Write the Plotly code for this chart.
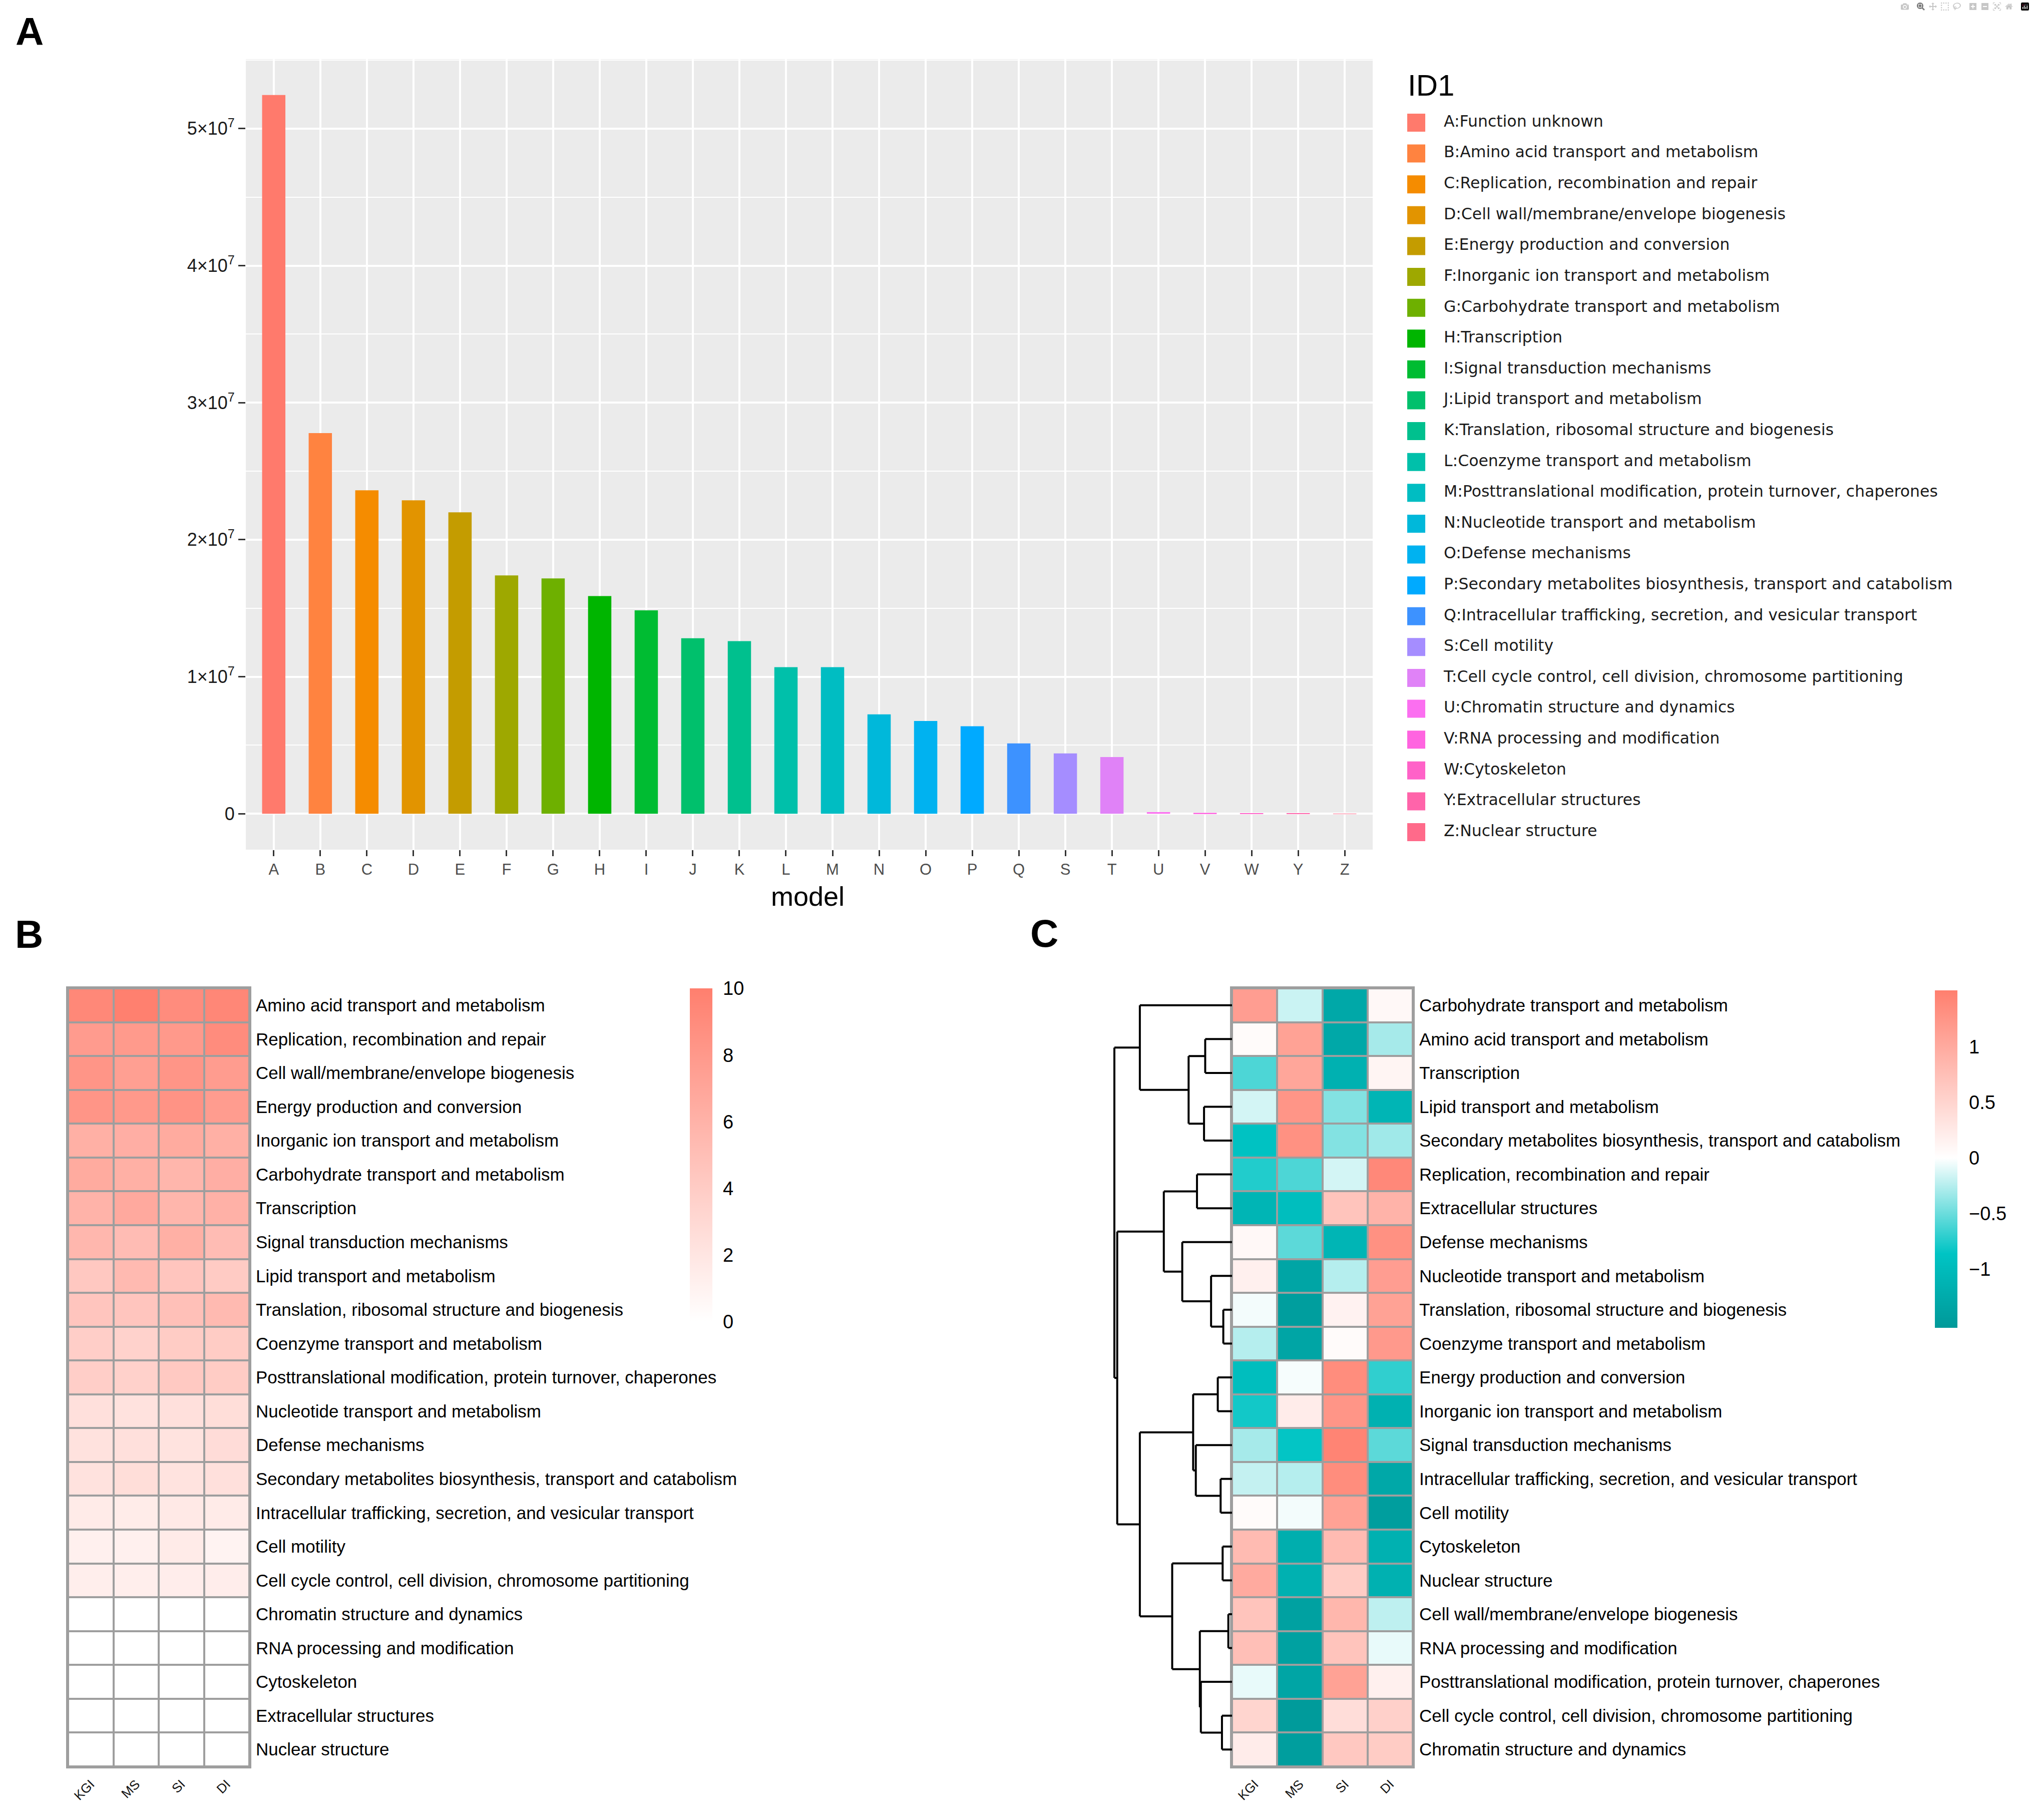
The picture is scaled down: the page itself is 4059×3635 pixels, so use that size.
import plotly.graph_objects as go

W, H = 4059, 3635

# ---- data -------------------------------------------------------------
categories = ["A", "B", "C", "D", "E", "F", "G", "H", "I", "J", "K", "L",
              "M", "N", "O", "P", "Q", "S", "T", "U", "V", "W", "Y", "Z"]
descriptions = [
    "Function unknown",
    "Amino acid transport and metabolism",
    "Replication, recombination and repair",
    "Cell wall/membrane/envelope biogenesis",
    "Energy production and conversion",
    "Inorganic ion transport and metabolism",
    "Carbohydrate transport and metabolism",
    "Transcription",
    "Signal transduction mechanisms",
    "Lipid transport and metabolism",
    "Translation, ribosomal structure and biogenesis",
    "Coenzyme transport and metabolism",
    "Posttranslational modification, protein turnover, chaperones",
    "Nucleotide transport and metabolism",
    "Defense mechanisms",
    "Secondary metabolites biosynthesis, transport and catabolism",
    "Intracellular trafficking, secretion, and vesicular transport",
    "Cell motility",
    "Cell cycle control, cell division, chromosome partitioning",
    "Chromatin structure and dynamics",
    "RNA processing and modification",
    "Cytoskeleton",
    "Extracellular structures",
    "Nuclear structure",
]
gene_counts = [5.245e7, 2.778e7, 2.36e7, 2.287e7, 2.20e7, 1.739e7, 1.717e7,
               1.588e7, 1.484e7, 1.281e7, 1.26e7, 1.07e7, 1.07e7, 0.725e7,
               0.677e7, 0.638e7, 0.513e7, 0.44e7, 0.414e7, 1.2e5, 6e4,
               1.5e4, 1e4, 5e3]
# hue palette as it appears in the figure
palette = ["#FF7A6C", "#FF8340", "#F58C00", "#E29400", "#C49C00", "#9EA800",
           "#6EB000", "#00B500", "#00BC32", "#00C06C", "#00C08E", "#00C0AA",
           "#00BDC2", "#00B8DA", "#00B2F0", "#00AAFF", "#3D92FF", "#A58DFF",
           "#E082F7", "#FB6FF0", "#FF64E0", "#FF62C8", "#FF64AA", "#FF6A8A"]

y_tick_vals = [0, 1e7, 2e7, 3e7, 4e7, 5e7]
y_tick_text = ["0", "1×10<sup>7</sup>", "2×10<sup>7</sup>", "3×10<sup>7</sup>",
               "4×10<sup>7</sup>", "5×10<sup>7</sup>"]

samples = ["KGI", "MS", "SI", "DI"]

# panel B: log abundance, rows in the same order as the legend (B..Z)
b_rows = descriptions[1:]
b_values = [
    [9.3, 9.9, 9.0, 9.4],
    [7.8, 7.9, 8.0, 9.0],
    [8.3, 7.5, 8.3, 7.7],
    [8.3, 8.0, 8.4, 7.7],
    [6.2, 6.3, 6.6, 6.2],
    [6.6, 6.2, 5.7, 6.3],
    [5.9, 6.7, 5.7, 6.1],
    [5.6, 5.2, 6.2, 5.2],
    [4.3, 5.4, 4.5, 4.1],
    [4.5, 4.5, 4.9, 5.4],
    [3.8, 3.5, 4.0, 4.0],
    [3.8, 3.6, 4.2, 4.0],
    [2.4, 2.3, 2.4, 2.6],
    [2.3, 2.4, 2.2, 2.7],
    [2.3, 2.6, 2.2, 2.4],
    [1.6, 1.5, 1.7, 1.6],
    [1.2, 1.2, 1.6, 0.9],
    [1.3, 1.3, 1.4, 1.4],
    [0.0, 0.0, 0.0, 0.0],
    [0.0, 0.0, 0.0, 0.0],
    [0.0, 0.0, 0.0, 0.0],
    [0.0, 0.0, 0.0, 0.0],
    [0.0, 0.0, 0.0, 0.0],
]
b_ticks = [0, 2, 4, 6, 8, 10]

# panel C: row-scaled values, rows in clustered order
c_rows = [
    "Carbohydrate transport and metabolism",
    "Amino acid transport and metabolism",
    "Transcription",
    "Lipid transport and metabolism",
    "Secondary metabolites biosynthesis, transport and catabolism",
    "Replication, recombination and repair",
    "Extracellular structures",
    "Defense mechanisms",
    "Nucleotide transport and metabolism",
    "Translation, ribosomal structure and biogenesis",
    "Coenzyme transport and metabolism",
    "Energy production and conversion",
    "Inorganic ion transport and metabolism",
    "Signal transduction mechanisms",
    "Intracellular trafficking, secretion, and vesicular transport",
    "Cell motility",
    "Cytoskeleton",
    "Nuclear structure",
    "Cell wall/membrane/envelope biogenesis",
    "RNA processing and modification",
    "Posttranslational modification, protein turnover, chaperones",
    "Cell cycle control, cell division, chromosome partitioning",
    "Chromatin structure and dynamics",
]
c_values = [
    [1.15, -0.18, -1.3, 0.08],
    [0.05, 1.1, -1.3, -0.3],
    [-0.6, 1.05, -1.15, 0.12],
    [-0.15, 1.25, -0.42, -1.1],
    [-0.9, 1.3, -0.42, -0.32],
    [-0.75, -0.6, -0.15, 1.4],
    [-1.1, -0.95, 0.7, 0.9],
    [0.08, -0.55, -1.1, 1.3],
    [0.18, -1.35, -0.25, 1.15],
    [-0.04, -1.45, 0.15, 1.1],
    [-0.25, -1.35, 0.05, 1.2],
    [-0.95, -0.03, 1.35, -0.7],
    [-0.8, 0.22, 1.25, -1.15],
    [-0.3, -0.85, 1.45, -0.55],
    [-0.2, -0.25, 1.35, -1.3],
    [0.05, -0.04, 1.1, -1.45],
    [0.8, -1.2, 0.8, -1.15],
    [1.0, -1.15, 0.6, -1.15],
    [0.7, -1.4, 0.85, -0.22],
    [0.75, -1.4, 0.7, -0.08],
    [-0.08, -1.35, 1.1, 0.18],
    [0.5, -1.5, 0.4, 0.55],
    [0.22, -1.45, 0.65, 0.6],
]
c_ticks = [-1, -0.5, 0, 0.5, 1]
c_tick_text = ["\u22121", "\u22120.5", "0", "0.5", "1"]

# row dendrogram of panel C: (child a, child b, height); new nodes get ids 23, 24, ...
c_merges = [
    (1, 2, 1.60), (3, 4, 1.67), (23, 24, 2.59), (0, 25, 5.50),
    (5, 6, 2.09), (9, 10, 0.52), (8, 28, 1.25), (7, 29, 2.97), (27, 30, 4.07),
    (11, 12, 0.85), (14, 15, 0.68), (13, 33, 2.16), (32, 34, 2.32),
    (16, 17, 0.56), (18, 19, 0.22), (21, 22, 0.60), (20, 38, 1.86),
    (37, 39, 1.92), (36, 40, 3.57), (35, 41, 5.50), (31, 42, 6.85),
    (26, 43, 7.02),
]


# ---- helpers ----------------------------------------------------------
def px(x):
    return x / W


def py(y):
    return 1 - y / H


n = len(categories)

# dendrogram segments from the merge table
pos = {i: float(i) for i in range(len(c_rows))}
hgt = {i: 0.0 for i in range(len(c_rows))}
dx, dy = [], []
for k, (a, b, h) in enumerate(c_merges):
    node = len(c_rows) + k
    for ch in (a, b):
        dx += [hgt[ch], h, None]
        dy += [pos[ch], pos[ch], None]
    dx += [h, h, None]
    dy += [pos[a], pos[b], None]
    pos[node] = (pos[a] + pos[b]) / 2
    hgt[node] = h

SANS = "Liberation Sans, Arial, sans-serif"
fig = go.Figure()

# ---- panel A: bars ----------------------------------------------------
fig.add_trace(go.Bar(
    x=categories, y=gene_counts, width=0.5,
    marker=dict(color=palette, line=dict(width=0)),
    xaxis="x", yaxis="y", showlegend=False, hoverinfo="x+y",
))

# hand-built legend (ggplot keys are much larger than plotly's)
legend_labels = [f"{c}:{d}" for c, d in zip(categories, descriptions)]
idx = list(range(n))
fig.add_trace(go.Scatter(
    x=[29] * n, y=idx, mode="markers",
    marker=dict(symbol="square", size=36, color=palette, line=dict(width=0)),
    xaxis="x6", yaxis="y6", showlegend=False, hoverinfo="skip",
))
fig.add_trace(go.Scatter(
    x=[84] * n, y=idx, mode="text", text=legend_labels,
    textposition="middle right",
    textfont=dict(family="DejaVu Sans", size=31.5, color="#1A1A1A"),
    xaxis="x6", yaxis="y6", showlegend=False, hoverinfo="skip",
    cliponaxis=False,
))

# ---- panel B: heatmap -------------------------------------------------
fig.add_trace(go.Heatmap(
    z=b_values, x=list(range(len(samples))), y=list(range(len(b_rows))),
    zmin=0, zmax=10, colorscale=[[0, "#FFFFFF"], [1, "#FF7F6E"]],
    xgap=4, ygap=4, xaxis="x3", yaxis="y3", hoverinfo="z",
    colorbar=dict(
        x=px(1378), xanchor="left", xpad=0, ypad=0,
        y=py((1974 + 2640) / 2), yanchor="middle",
        lenmode="pixels", len=2640 - 1974, thickness=45,
        outlinewidth=0, tickvals=b_ticks, ticks="outside", ticklen=14,
        tickcolor="rgba(0,0,0,0)",
        tickfont=dict(family=SANS, size=38, color="#000000"),
    ),
))

# ---- panel C: dendrogram + heatmap -----------------------------------
fig.add_trace(go.Scatter(
    x=dx, y=dy, mode="lines", line=dict(color="#000000", width=4),
    xaxis="x5", yaxis="y5", showlegend=False, hoverinfo="skip",
))
fig.add_trace(go.Heatmap(
    z=c_values, x=list(range(len(samples))), y=list(range(len(c_rows))),
    zmin=-1.53, zmax=1.51,
    colorscale=[[0, "#009999"], [0.22, "#00C4C4"], [0.503, "#FFFFFF"],
                [1, "#FF7F6E"]],
    xgap=4, ygap=4, xaxis="x4", yaxis="y4", hoverinfo="z",
    colorbar=dict(
        x=px(3865), xanchor="left", xpad=0, ypad=0,
        y=py((1978 + 2652) / 2), yanchor="middle",
        lenmode="pixels", len=2652 - 1978, thickness=45,
        outlinewidth=0, tickvals=c_ticks, ticktext=c_tick_text,
        ticks="outside", ticklen=16, tickcolor="rgba(0,0,0,0)",
        tickfont=dict(family=SANS, size=38, color="#000000"),
    ),
))

# ---- layout -----------------------------------------------------------
grey_border = "#9E9E9E"
hm_top, hm_bot = 1974, 3528
heat_x = dict(
    tickvals=list(range(len(samples))), ticktext=samples, tickangle=-45,
    range=[-0.5, len(samples) - 0.5], showgrid=False, zeroline=False,
    showline=True, mirror=True, linecolor=grey_border, linewidth=4,
    ticks="", ticklabelstandoff=6,
    tickfont=dict(family=SANS, size=26, color="#111111"),
)


def heat_y(labels, anchor):
    return dict(
        tickvals=list(range(len(labels))), ticktext=labels,
        range=[len(labels) - 0.5, -0.5], side="right", anchor=anchor,
        showgrid=False, zeroline=False, showline=True, mirror=True,
        linecolor=grey_border, linewidth=4, ticks="", ticklabelstandoff=2,
        tickfont=dict(family=SANS, size=35, color="#000000"),
        domain=[py(hm_bot), py(hm_top)],
    )


def label(text, x, y, size, xanchor="center"):
    return dict(text=text, x=px(x), y=py(y), xref="paper", yref="paper",
                xanchor=xanchor, yanchor="middle", showarrow=False,
                font=dict(family=SANS, size=size, color="#000000"))


fig.update_layout(
    width=W, height=H, margin=dict(l=0, r=0, t=0, b=0),
    paper_bgcolor="#FFFFFF", plot_bgcolor="rgba(0,0,0,0)",
    showlegend=False,
    xaxis=dict(
        domain=[px(491), px(2742)], anchor="y", type="category",
        categoryorder="array", categoryarray=categories,
        range=[-0.6, n - 0.4], showgrid=True, gridcolor="#FFFFFF",
        gridwidth=4, zeroline=False, showline=False,
        ticks="outside", ticklen=12, tickwidth=3, tickcolor="#333333",
        tickfont=dict(family=SANS, size=31, color="#4D4D4D"),
    ),
    yaxis=dict(
        domain=[py(1697), py(118)], anchor="x",
        range=[-0.05 * max(gene_counts), 1.05 * max(gene_counts)],
        tickvals=y_tick_vals, ticktext=y_tick_text,
        showgrid=True, gridcolor="#FFFFFF", gridwidth=4, zeroline=False,
        minor=dict(dtick=5e6, tick0=0, showgrid=True, gridcolor="#FFFFFF",
                   gridwidth=2),
        ticks="outside", ticklen=14, tickwidth=3, tickcolor="#333333",
        tickfont=dict(family=SANS, size=36, color="#1A1A1A"),
    ),
    xaxis3=dict(domain=[px(136), px(498)], anchor="y3", **heat_x),
    yaxis3=heat_y(b_rows, "x3"),
    xaxis4=dict(domain=[px(2461), px(2822)], anchor="y4", **heat_x),
    yaxis4=heat_y(c_rows, "x4"),
    xaxis5=dict(domain=[px(2224), px(2461)], anchor="y5",
                range=[c_merges[-1][2] + 0.06, 0], visible=False),
    yaxis5=dict(domain=[py(hm_bot), py(hm_top)], anchor="x5",
                range=[len(c_rows) - 0.5, -0.5], visible=False),
    xaxis6=dict(domain=[px(2800), 1.0], anchor="y6", range=[0, W - 2800],
                visible=False),
    yaxis6=dict(domain=[py(1662 + 30.8), py(245 - 30.8)], anchor="x6",
                range=[n - 0.5, -0.5], visible=False),
    shapes=[
        dict(type="rect", xref="x domain", yref="y domain", x0=0, x1=1,
             y0=0, y1=1, fillcolor="#EBEBEB", line=dict(width=0),
             layer="below"),
        dict(type="rect", xref="x3 domain", yref="y3 domain", x0=0, x1=1,
             y0=0, y1=1, fillcolor=grey_border, line=dict(width=0),
             layer="below"),
        dict(type="rect", xref="x4 domain", yref="y4 domain", x0=0, x1=1,
             y0=0, y1=1, fillcolor=grey_border, line=dict(width=0),
             layer="below"),
    ],
    annotations=[
        label("<b>A</b>", 59, 63, 78),
        label("<b>B</b>", 58, 1866, 78),
        label("<b>C</b>", 2086, 1864, 78),
        label("model", 1613, 1790, 54),
        label("ID1", 2810, 171, 60, xanchor="left"),
    ],
)

fig.write_html("out.html", post_script="document.body.style.margin='0';")
